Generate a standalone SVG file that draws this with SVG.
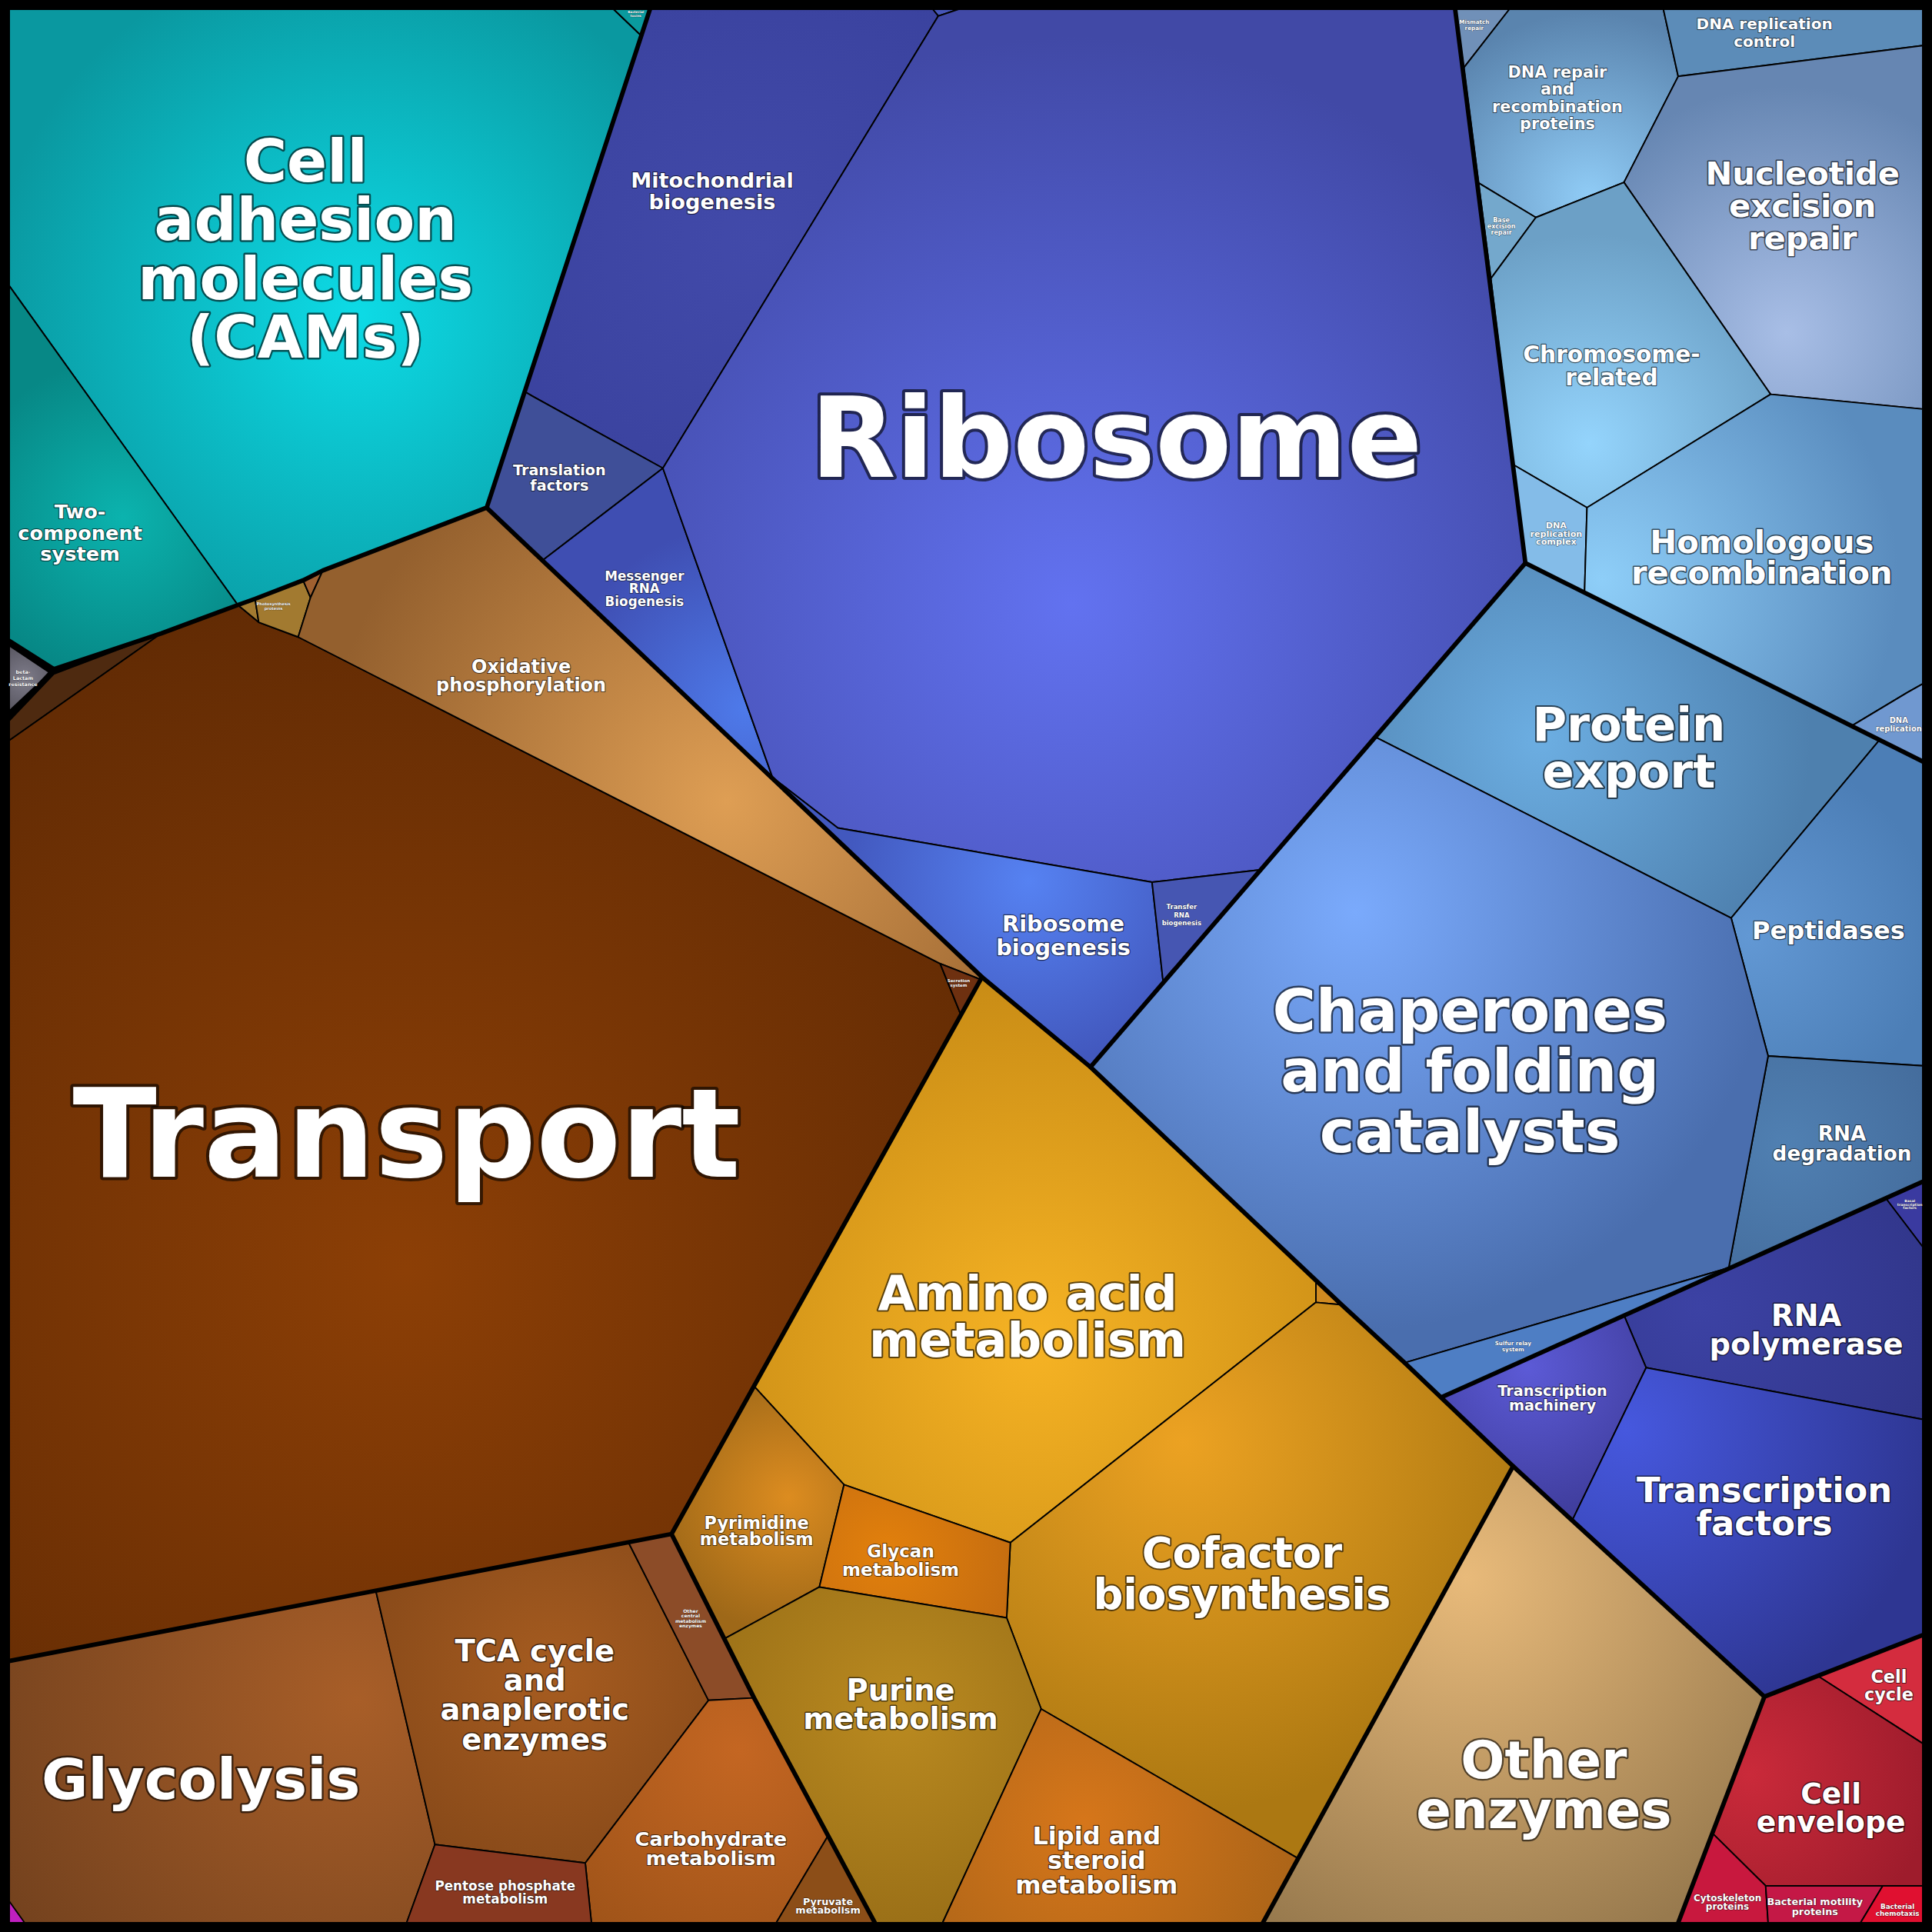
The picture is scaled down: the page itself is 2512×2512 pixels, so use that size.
<svg xmlns="http://www.w3.org/2000/svg" width="2512" height="2512" viewBox="0 0 2512 2512">
<defs>
<style>
.c{stroke:#000;stroke-width:1.2;stroke-linejoin:round}
.g{fill:none;stroke:#000;stroke-width:3.6;stroke-linejoin:round;stroke-linecap:round}
.t{font-family:"DejaVu Sans","Liberation Sans",sans-serif;font-weight:bold;fill:#fff;text-anchor:middle;stroke:#000;stroke-opacity:0.6;paint-order:stroke;stroke-linejoin:round}
</style>
<radialGradient id="gCam" gradientUnits="userSpaceOnUse" cx="290" cy="255" r="300"><stop offset="0" stop-color="#0DDBE6"/><stop offset="1" stop-color="#0A98A0"/></radialGradient>
<radialGradient id="gTcs" gradientUnits="userSpaceOnUse" cx="100" cy="420" r="130"><stop offset="0" stop-color="#0BB3AE"/><stop offset="1" stop-color="#078886"/></radialGradient>
<radialGradient id="gBlac" gradientUnits="userSpaceOnUse" cx="20" cy="550" r="30"><stop offset="0" stop-color="#7E7C8A"/><stop offset="1" stop-color="#56545E"/></radialGradient>
<radialGradient id="gTrans" gradientUnits="userSpaceOnUse" cx="330" cy="1030" r="560"><stop offset="0" stop-color="#8C3F06"/><stop offset="1" stop-color="#622B04"/></radialGradient>
<radialGradient id="gOxid" gradientUnits="userSpaceOnUse" cx="590" cy="650" r="330"><stop offset="0" stop-color="#DE9E54"/><stop offset="1" stop-color="#94602E"/></radialGradient>
<radialGradient id="gMito" gradientUnits="userSpaceOnUse" cx="620" cy="200" r="250"><stop offset="0" stop-color="#424AAA"/><stop offset="1" stop-color="#3A429E"/></radialGradient>
<radialGradient id="gRibo" gradientUnits="userSpaceOnUse" cx="870" cy="490" r="460"><stop offset="0" stop-color="#6272F0"/><stop offset="1" stop-color="#4149A6"/></radialGradient>
<radialGradient id="gMrna" gradientUnits="userSpaceOnUse" cx="605" cy="575" r="150"><stop offset="0" stop-color="#4E7AEA"/><stop offset="1" stop-color="#3F4EB2"/></radialGradient>
<radialGradient id="gRbio" gradientUnits="userSpaceOnUse" cx="835" cy="715" r="150"><stop offset="0" stop-color="#5682F2"/><stop offset="1" stop-color="#4258BE"/></radialGradient>
<radialGradient id="gDnarr" gradientUnits="userSpaceOnUse" cx="1290" cy="160" r="150"><stop offset="0" stop-color="#90CCF6"/><stop offset="1" stop-color="#5A84AE"/></radialGradient>
<radialGradient id="gNer" gradientUnits="userSpaceOnUse" cx="1450" cy="270" r="200"><stop offset="0" stop-color="#A8BEE6"/><stop offset="1" stop-color="#6686B2"/></radialGradient>
<radialGradient id="gChrom" gradientUnits="userSpaceOnUse" cx="1290" cy="360" r="170"><stop offset="0" stop-color="#94D4FC"/><stop offset="1" stop-color="#6CA0C6"/></radialGradient>
<radialGradient id="gHom" gradientUnits="userSpaceOnUse" cx="1300" cy="470" r="240"><stop offset="0" stop-color="#8ECEF8"/><stop offset="1" stop-color="#5A8CBE"/></radialGradient>
<radialGradient id="gPexp" gradientUnits="userSpaceOnUse" cx="1250" cy="600" r="220"><stop offset="0" stop-color="#6CAEE2"/><stop offset="1" stop-color="#4E80AE"/></radialGradient>
<radialGradient id="gChap" gradientUnits="userSpaceOnUse" cx="1100" cy="740" r="340"><stop offset="0" stop-color="#7AAAFC"/><stop offset="1" stop-color="#4A6EAE"/></radialGradient>
<radialGradient id="gPept" gradientUnits="userSpaceOnUse" cx="1420" cy="760" r="150"><stop offset="0" stop-color="#6298D4"/><stop offset="1" stop-color="#4C7EB6"/></radialGradient>
<radialGradient id="gRdeg" gradientUnits="userSpaceOnUse" cx="1450" cy="930" r="130"><stop offset="0" stop-color="#5080B2"/><stop offset="1" stop-color="#446C9C"/></radialGradient>
<radialGradient id="gTmach" gradientUnits="userSpaceOnUse" cx="1240" cy="1110" r="120"><stop offset="0" stop-color="#5C5AD6"/><stop offset="1" stop-color="#403E9E"/></radialGradient>
<radialGradient id="gTfac" gradientUnits="userSpaceOnUse" cx="1320" cy="1160" r="250"><stop offset="0" stop-color="#4658DE"/><stop offset="1" stop-color="#2E3692"/></radialGradient>
<radialGradient id="gRpol" gradientUnits="userSpaceOnUse" cx="1380" cy="1060" r="200"><stop offset="0" stop-color="#3C42A4"/><stop offset="1" stop-color="#31368A"/></radialGradient>
<radialGradient id="gCenv" gradientUnits="userSpaceOnUse" cx="1420" cy="1440" r="150"><stop offset="0" stop-color="#CA2A3A"/><stop offset="1" stop-color="#9E1C2C"/></radialGradient>
<radialGradient id="gAmino" gradientUnits="userSpaceOnUse" cx="840" cy="1090" r="330"><stop offset="0" stop-color="#F6B324"/><stop offset="1" stop-color="#C48814"/></radialGradient>
<radialGradient id="gCof" gradientUnits="userSpaceOnUse" cx="960" cy="1170" r="300"><stop offset="0" stop-color="#ECA222"/><stop offset="1" stop-color="#AC7812"/></radialGradient>
<radialGradient id="gPyr" gradientUnits="userSpaceOnUse" cx="640" cy="1215" r="110"><stop offset="0" stop-color="#DC8C20"/><stop offset="1" stop-color="#9E6818"/></radialGradient>
<radialGradient id="gGly" gradientUnits="userSpaceOnUse" cx="720" cy="1260" r="110"><stop offset="0" stop-color="#E2800C"/><stop offset="1" stop-color="#C46C10"/></radialGradient>
<radialGradient id="gPur" gradientUnits="userSpaceOnUse" cx="730" cy="1390" r="200"><stop offset="0" stop-color="#BA8A20"/><stop offset="1" stop-color="#966C16"/></radialGradient>
<radialGradient id="gLip" gradientUnits="userSpaceOnUse" cx="880" cy="1480" r="200"><stop offset="0" stop-color="#D6761A"/><stop offset="1" stop-color="#A66218"/></radialGradient>
<radialGradient id="gOth" gradientUnits="userSpaceOnUse" cx="1190" cy="1280" r="320"><stop offset="0" stop-color="#E8BA7A"/><stop offset="1" stop-color="#987A4E"/></radialGradient>
<radialGradient id="gGlyc" gradientUnits="userSpaceOnUse" cx="290" cy="1380" r="330"><stop offset="0" stop-color="#A85E28"/><stop offset="1" stop-color="#74421E"/></radialGradient>
<radialGradient id="gTca" gradientUnits="userSpaceOnUse" cx="450" cy="1360" r="200"><stop offset="0" stop-color="#A65C20"/><stop offset="1" stop-color="#824618"/></radialGradient>
<radialGradient id="gCarb" gradientUnits="userSpaceOnUse" cx="600" cy="1420" r="200"><stop offset="0" stop-color="#C46622"/><stop offset="1" stop-color="#9C5218"/></radialGradient>
</defs>
<rect x="0" y="0" width="2512" height="2512" fill="#000"/>
<g transform="scale(1.602041)">
<g id="cells-teal">
<polygon id="cell-adhesion" class="c" fill="url(#gCam)" points="7.5,7.5 498,7.5 520.5,29 395,412 262,463 246,471 207,486 193,491 7.5,232"/>
<polygon id="two-component" class="c" fill="url(#gTcs)" points="7.5,232 193,491 131,514 43.7,543 7.5,520"/>
<polygon id="bacterial-toxins" class="c" fill="#0A9A9E" points="498,7.5 527.5,7.5 520.5,29"/>
<polygon id="beta-lactam" class="c" fill="url(#gBlac)" points="7.5,524 40.5,546 7.5,577"/>
</g>
<g id="cells-brown">
<polygon id="unknown-brown" class="c" fill="#4E2A10" points="7.5,585 43.7,547 131,514 7.5,601"/>
<polygon id="transport" class="c" fill="url(#gTrans)" points="7.5,601 131,514 193,491 210,505 242,517 763,782 780,824 545,1245 7.5,1348"/>
<polygon id="photo-a" class="c" fill="#A27A30" points="193,491 207,486 210,505"/>
<polygon id="photosynthesis" class="c" fill="#A27A30" points="207,486 246,471 252,485 242,517 210,505"/>
<polygon id="photo-c" class="c" fill="#A06030" points="246,471 262,463 252,485"/>
<polygon id="oxidative" class="c" fill="url(#gOxid)" points="262,463 395,412 797,793 796,795 763,782 242,517 252,485"/>
<polygon id="secretion" class="c" fill="#6E3010" points="763,782 796,795 780,824"/>
</g>
<g id="cells-ribosome">
<polygon id="tiny-top" class="c" fill="#4656B8" points="757,7.5 778,7.5 761.5,13"/>
<polygon id="mitochondrial" class="c" fill="url(#gMito)" points="527.5,7.5 757,7.5 761.5,13 538,380 433,322 426,318"/>
<polygon id="translation" class="c" fill="#3F4F98" points="426,318 433,322 538,380 440,455 395,412"/>
<polygon id="mrna" class="c" fill="url(#gMrna)" points="440,455 538,380 627,631"/>
<polygon id="ribosome" class="c" fill="url(#gRibo)" points="761.5,13 778,7.5 1181,7.5 1238,457 1022.6,706 935,716 680,672 627,631 538,380"/>
<polygon id="ribosome-biogenesis" class="c" fill="url(#gRbio)" points="627,631 680,672 935,716 944,797 885,866 797,793"/>
<polygon id="trna" class="c" fill="#4656B2" points="935,716 1022.6,706 944,797"/>
</g>
<g id="cells-dna">
<polygon id="mismatch" class="c" fill="#7090B8" points="1181,7.5 1225,7.5 1188,55"/>
<polygon id="dna-repair" class="c" fill="url(#gDnarr)" points="1188,55 1225,7.5 1350,7.5 1362,62 1318,148 1246.5,176.5 1200,148.5"/>
<polygon id="dna-rep-control" class="c" fill="#5C8CB8" points="1350,7.5 1560.5,7.5 1560.5,37 1362,62"/>
<polygon id="ner" class="c" fill="url(#gNer)" points="1362,62 1560.5,37 1560.5,332 1437,320 1318,148"/>
<polygon id="ber" class="c" fill="#74A8CC" points="1200,148.5 1246.5,176.5 1210,226"/>
<polygon id="chromosome" class="c" fill="url(#gChrom)" points="1246.5,176.5 1318,148 1437,320 1288,412 1228,377 1210,226"/>
<polygon id="dna-rep-complex" class="c" fill="#84BCE8" points="1228,377 1288,412 1286,481 1238,457"/>
<polygon id="homologous" class="c" fill="url(#gHom)" points="1288,412 1437,320 1560.5,332 1560.5,555 1548,562 1503,589 1286,481"/>
<polygon id="dna-replication" class="c" fill="#7098D0" points="1503,589 1548,562 1560.5,555 1560.5,618"/>
</g>
<g id="cells-protein">
<polygon id="protein-export" class="c" fill="url(#gPexp)" points="1116,598 1238,457 1525,601 1405,745"/>
<polygon id="peptidases" class="c" fill="url(#gPept)" points="1525,601 1560.5,618 1560.5,865 1435,857 1405,745"/>
<polygon id="rna-degradation" class="c" fill="url(#gRdeg)" points="1435,857 1560.5,865 1560.5,959 1403,1029"/>
<polygon id="chaperones" class="c" fill="url(#gChap)" points="885,866 1116,598 1405,745 1435,857 1403,1029 1140,1106"/>
<polygon id="sulfur-relay" class="c" fill="#4E7EC4" points="1140,1106 1403,1029 1170,1134"/>
</g>
<g id="cells-transcription">
<polygon id="basal-tf" class="c" fill="#3A3AA0" points="1530.5,972.5 1560.5,959 1560.5,1012"/>
<polygon id="rna-polymerase" class="c" fill="url(#gRpol)" points="1318,1067.5 1530.5,972.5 1560.5,1012 1560.5,1152 1336,1110"/>
<polygon id="transcription-machinery" class="c" fill="url(#gTmach)" points="1170,1134 1318,1067.5 1336,1110 1276,1234 1228,1190"/>
<polygon id="transcription-factors" class="c" fill="url(#gTfac)" points="1336,1110 1560.5,1152 1560.5,1327 1432,1377 1276,1234"/>
</g>
<g id="cells-cell">
<polygon id="cell-cycle" class="c" fill="#D42C3E" points="1475,1360 1560.5,1327 1560.5,1415"/>
<polygon id="cell-envelope" class="c" fill="url(#gCenv)" points="1432,1377 1475,1360 1560.5,1415 1560.5,1530.5 1433,1530.5 1390,1488"/>
<polygon id="cytoskeleton" class="c" fill="#C8183E" points="1390,1488 1433,1530.5 1435,1560.5 1362,1560.5"/>
<polygon id="motility" class="c" fill="#C41846" points="1433,1530.5 1528,1530.5 1510,1560.5 1435,1560.5"/>
<polygon id="chemotaxis" class="c" fill="#E01030" points="1528,1530.5 1560.5,1530.5 1560.5,1560.5 1510,1560.5"/>
</g>
<g id="cells-metabolism">
<polygon id="amino-acid" class="c" fill="url(#gAmino)" points="797,793 885,866 1068,1039 1068,1057 820,1252 685,1205 612,1125"/>
<polygon id="tiny-orange" class="c" fill="#D08A20" points="1068,1039 1089,1059 1068,1057"/>
<polygon id="cofactor" class="c" fill="url(#gCof)" points="820,1252 1068,1057 1089,1059 1140,1106 1228,1190 1053,1508 845,1387 817,1313"/>
<polygon id="pyrimidine" class="c" fill="url(#gPyr)" points="612,1125 685,1205 665,1288 588,1330 545,1245"/>
<polygon id="glycan" class="c" fill="url(#gGly)" points="685,1205 820,1252 817,1313 665,1288"/>
<polygon id="purine" class="c" fill="url(#gPur)" points="588,1330 665,1288 817,1313 845,1387 765,1560.5 710,1560.5 612,1378"/>
<polygon id="lipid" class="c" fill="url(#gLip)" points="845,1387 1053,1508 1025,1560.5 765,1560.5"/>
<polygon id="other-enzymes" class="c" fill="url(#gOth)" points="1228,1190 1432,1377 1362,1560.5 1025,1560.5 1053,1508"/>
</g>
<g id="cells-carbohydrate">
<polygon id="glycolysis" class="c" fill="url(#gGlyc)" points="7.5,1348 305,1291 353,1497 330,1560.5 7.5,1560.5"/>
<polygon id="tca" class="c" fill="url(#gTca)" points="305,1291 510,1251.7 575,1380 475,1512 353,1497"/>
<polygon id="other-central" class="c" fill="#8C4C28" points="510,1251.7 545,1245 612,1378 575,1380"/>
<polygon id="carbohydrate" class="c" fill="url(#gCarb)" points="475,1512 575,1380 612,1378 672,1490 630,1560.5 480,1560.5"/>
<polygon id="pentose" class="c" fill="#883820" points="353,1497 475,1512 480,1560.5 330,1560.5"/>
<polygon id="pyruvate" class="c" fill="#8C4E18" points="672,1490 710,1560.5 630,1560.5"/>
<polygon id="magenta-corner" class="c" fill="#C020C0" points="7.5,1543 20,1560.5 7.5,1560.5"/>
</g>
<g id="group-borders">
<path class="g" d="M7.5,520 L43.7,543 L131,514 L193,491 L207,486 L246,471 L262,463 L395,412 L527.5,7.5"/>
<path class="g" d="M7.5,522 L42,545 L7.5,582 M42,545 L43.7,543"/>
<path class="g" d="M395,412 L797,793 L885,866 L1238,457 L1181,7.5"/>
<path class="g" d="M1238,457 L1560.5,618"/>
<path class="g" d="M1560.5,959 L1170,1134"/>
<path class="g" d="M885,866 L1089,1059 L1140,1106 L1228,1190 L1432,1377 L1560.5,1327"/>
<path class="g" d="M1432,1377 L1362,1560.5"/>
<path class="g" d="M1228,1190 L1025,1560.5"/>
<path class="g" d="M797,793 L545,1245 L612,1378 L710,1560.5"/>
<path class="g" d="M7.5,1348 L545,1245"/>
<rect x="3.75" y="3.75" width="1560.5" height="1560.5" fill="none" stroke="#000" stroke-width="7.5"/>
</g>
<g id="connectors"/>
<g id="labels">
<text class="t" font-size="48" stroke-width="3" x="248" y="147">Cell<tspan x="248" y="195">adhesion</tspan><tspan x="248" y="243">molecules</tspan><tspan x="248" y="290">(CAMs)</tspan></text>
<text class="t" font-size="16" stroke-width="1.4" x="65" y="421">Two-<tspan x="65" y="438">component</tspan><tspan x="65" y="455">system</tspan></text>
<text class="t" font-size="2.6" stroke-width="0.3" x="516" y="10.8">Bacterial<tspan x="516" y="13.6">toxins</tspan></text>
<text class="t" font-size="4" stroke-width="0.4" x="18.7" y="546.5">beta-<tspan x="18.7" y="551.5">Lactam</tspan><tspan x="18.7" y="556.5">resistance</tspan></text>
<text class="t" font-size="17" stroke-width="1.4" x="578" y="152">Mitochondrial<tspan x="578" y="170">biogenesis</tspan></text>
<text class="t" font-size="90" stroke-width="5" x="906" y="387">Ribosome</text>
<text class="t" font-size="12" stroke-width="1.1" x="454" y="386">Translation<tspan x="454" y="398">factors</tspan></text>
<text class="t" font-size="10.5" stroke-width="1" x="523" y="471">Messenger<tspan x="523" y="481.5">RNA</tspan><tspan x="523" y="492">Biogenesis</tspan></text>
<text class="t" font-size="18" stroke-width="1.5" x="863" y="756">Ribosome<tspan x="863" y="775">biogenesis</tspan></text>
<text class="t" font-size="5.3" stroke-width="0.5" x="959" y="738">Transfer<tspan x="959" y="744.5">RNA</tspan><tspan x="959" y="751">biogenesis</tspan></text>
<text class="t" font-size="4.5" stroke-width="0.45" x="1196.5" y="19.5">Mismatch<tspan x="1196.5" y="24.5">repair</tspan></text>
<text class="t" font-size="13" stroke-width="1.2" x="1264" y="63">DNA repair<tspan x="1264" y="77">and</tspan><tspan x="1264" y="91">recombination</tspan><tspan x="1264" y="105">proteins</tspan></text>
<text class="t" font-size="12.5" stroke-width="1.1" x="1432" y="24">DNA replication<tspan x="1432" y="38">control</tspan></text>
<text class="t" font-size="26" stroke-width="2" x="1463" y="150">Nucleotide<tspan x="1463" y="176">excision</tspan><tspan x="1463" y="202">repair</tspan></text>
<text class="t" font-size="5" stroke-width="0.5" x="1218.5" y="180.5">Base<tspan x="1218.5" y="185.5">excision</tspan><tspan x="1218.5" y="190.5">repair</tspan></text>
<text class="t" font-size="18.5" stroke-width="1.5" x="1308" y="294">Chromosome-<tspan x="1308" y="313">related</tspan></text>
<text class="t" font-size="7" stroke-width="0.7" x="1263" y="429">DNA<tspan x="1263" y="435.5">replication</tspan><tspan x="1263" y="442">complex</tspan></text>
<text class="t" font-size="26" stroke-width="2" x="1430" y="449">Homologous<tspan x="1430" y="474">recombination</tspan></text>
<text class="t" font-size="6.2" stroke-width="0.6" x="1541" y="586.5">DNA<tspan x="1541" y="593.5">replication</tspan></text>
<text class="t" font-size="38" stroke-width="2.6" x="1322" y="601">Protein<tspan x="1322" y="639">export</tspan></text>
<text class="t" font-size="20" stroke-width="1.6" x="1484" y="762">Peptidases</text>
<text class="t" font-size="48" stroke-width="3" x="1193" y="837">Chaperones<tspan x="1193" y="886">and folding</tspan><tspan x="1193" y="935">catalysts</tspan></text>
<text class="t" font-size="16.4" stroke-width="1.4" x="1495" y="926">RNA<tspan x="1495" y="942">degradation</tspan></text>
<text class="t" font-size="4.5" stroke-width="0.45" x="1228" y="1091.5">Sulfur relay<tspan x="1228" y="1096.5">system</tspan></text>
<text class="t" font-size="2.8" stroke-width="0.3" x="1550" y="975.5">Basal<tspan x="1550" y="978.5">transcription</tspan><tspan x="1550" y="981.5">factors</tspan></text>
<text class="t" font-size="24" stroke-width="1.8" x="1466" y="1076">RNA<tspan x="1466" y="1099">polymerase</tspan></text>
<text class="t" font-size="12" stroke-width="1.1" x="1260" y="1133">Transcription<tspan x="1260" y="1145">machinery</tspan></text>
<text class="t" font-size="28" stroke-width="2" x="1432" y="1219">Transcription<tspan x="1432" y="1246">factors</tspan></text>
<text class="t" font-size="14" stroke-width="1.2" x="1533" y="1366">Cell<tspan x="1533" y="1380">cycle</tspan></text>
<text class="t" font-size="23.5" stroke-width="1.8" x="1486" y="1464">Cell<tspan x="1486" y="1487">envelope</tspan></text>
<text class="t" font-size="7.5" stroke-width="0.7" x="1402" y="1543">Cytoskeleton<tspan x="1402" y="1550">proteins</tspan></text>
<text class="t" font-size="8" stroke-width="0.7" x="1473" y="1546">Bacterial motility<tspan x="1473" y="1554">proteins</tspan></text>
<text class="t" font-size="5.5" stroke-width="0.5" x="1540" y="1549.5">Bacterial<tspan x="1540" y="1555">chemotaxis</tspan></text>
<text class="t" font-size="100" stroke-width="5" x="330" y="955">Transport</text>
<text class="t" font-size="15" stroke-width="1.3" x="423" y="546">Oxidative<tspan x="423" y="561">phosphorylation</tspan></text>
<text class="t" font-size="3.2" stroke-width="0.35" x="222" y="491.5">Photosynthesis<tspan x="222" y="495">proteins</tspan></text>
<text class="t" font-size="3.4" stroke-width="0.35" x="778" y="797">Secretion<tspan x="778" y="801">system</tspan></text>
<text class="t" font-size="39" stroke-width="2.6" x="834" y="1063">Amino acid<tspan x="834" y="1101">metabolism</tspan></text>
<text class="t" font-size="34" stroke-width="2.4" x="1008" y="1272">Cofactor<tspan x="1008" y="1306">biosynthesis</tspan></text>
<text class="t" font-size="14" stroke-width="1.2" x="614" y="1241">Pyrimidine<tspan x="614" y="1254">metabolism</tspan></text>
<text class="t" font-size="14.4" stroke-width="1.2" x="731" y="1264">Glycan<tspan x="731" y="1279">metabolism</tspan></text>
<text class="t" font-size="24" stroke-width="1.8" x="731" y="1380">Purine<tspan x="731" y="1403">metabolism</tspan></text>
<text class="t" font-size="20" stroke-width="1.6" x="890" y="1497">Lipid and<tspan x="890" y="1517">steroid</tspan><tspan x="890" y="1537">metabolism</tspan></text>
<text class="t" font-size="42" stroke-width="2.8" x="1253" y="1443">Other<tspan x="1253" y="1484">enzymes</tspan></text>
<text class="t" font-size="46" stroke-width="3" x="163" y="1460">Glycolysis</text>
<text class="t" font-size="24" stroke-width="1.8" x="434" y="1348">TCA cycle<tspan x="434" y="1372">and</tspan><tspan x="434" y="1396">anaplerotic</tspan><tspan x="434" y="1420">enzymes</tspan></text>
<text class="t" font-size="16" stroke-width="1.4" x="577" y="1498">Carbohydrate<tspan x="577" y="1514">metabolism</tspan></text>
<text class="t" font-size="10.5" stroke-width="1" x="410" y="1534">Pentose phosphate<tspan x="410" y="1545">metabolism</tspan></text>
<text class="t" font-size="8" stroke-width="0.7" x="672" y="1546">Pyruvate<tspan x="672" y="1553">metabolism</tspan></text>
<text class="t" font-size="3.8" stroke-width="0.4" x="560.5" y="1309">Other<tspan x="560.5" y="1313">central</tspan><tspan x="560.5" y="1317">metabolism</tspan><tspan x="560.5" y="1321">enzymes</tspan></text>
</g>
</g>
</svg>
